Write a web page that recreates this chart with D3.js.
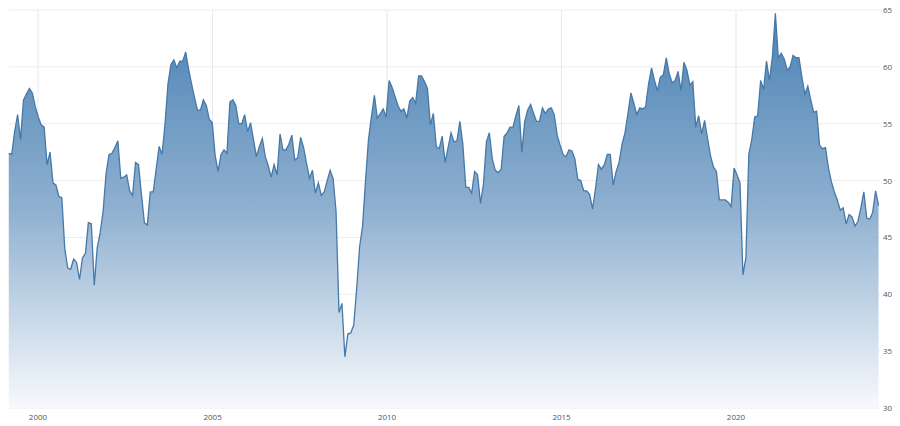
<!DOCTYPE html>
<html><head><meta charset="utf-8">
<script src="https://cdn.jsdelivr.net/npm/d3@7"></script>
<style>body{margin:0;background:#fff}svg{display:block}</style>
</head><body>
<svg id="c" width="900" height="426"></svg>
<script>
const startMonth = "1999-03";
const values = [52.4,52.3,54.3,55.8,53.6,57.1,57.6,58.1,57.7,56.5,55.6,54.9,54.7,51.4,52.5,49.8,49.6,48.6,48.5,44.0,42.3,42.2,43.1,42.8,41.3,43.2,43.6,46.3,46.2,40.8,44.1,45.4,47.3,50.6,52.3,52.4,52.9,53.5,50.2,50.3,50.5,49.1,48.7,51.6,51.4,48.8,46.3,46.1,49.0,49.0,51.0,53.0,52.3,55.0,58.5,60.2,60.6,59.9,60.5,60.5,61.3,59.8,58.5,57.3,56.2,56.2,57.1,56.6,55.4,55.1,52.2,50.8,52.3,52.7,52.4,56.9,57.1,56.6,55.0,55.0,55.8,54.3,55.1,53.6,52.1,53.0,53.7,52.1,51.3,50.3,51.4,50.5,54.1,52.7,52.7,53.2,54.0,51.8,52.0,53.8,52.9,51.5,50.2,50.9,48.9,49.8,48.7,49.0,50.0,50.9,50.2,47.3,38.4,39.2,34.5,36.5,36.6,37.3,40.5,44.2,46.0,50.0,53.6,55.6,57.5,55.5,55.9,56.3,55.6,58.8,58.2,57.4,56.6,56.1,56.3,55.5,57.0,57.3,56.8,59.2,59.2,58.7,58.1,54.9,55.9,53.0,52.8,53.9,51.6,
52.9,54.2,53.4,53.5,55.2,53.2,49.4,49.4,48.9,50.8,50.5,48.0,49.7,53.4,54.2,51.9,50.9,50.7,51.0,53.9,54.2,54.7,54.7,55.7,56.6,52.5,55.2,56.2,56.7,55.9,55.2,55.2,56.4,55.9,56.3,56.4,55.8,54.0,53.1,52.3,52.1,52.7,52.6,51.9,50.1,50.0,49.1,49.1,48.8,47.5,49.3,51.4,51.0,51.4,52.3,52.3,49.6,50.8,51.6,53.2,54.2,55.9,57.7,56.8,55.8,56.4,56.3,56.5,58.5,59.9,58.8,57.9,59.1,59.3,60.8,59.4,58.6,58.8,59.6,57.9,60.4,59.7,58.4,58.7,54.7,55.7,54.1,55.3,53.7,52.2,51.2,50.8,48.3,48.3,48.3,48.1,47.7,51.1,50.5,49.8,41.7,43.2,52.3,53.6,55.6,55.7,58.8,58.0,60.5,58.8,60.9,64.7,60.8,61.2,60.7,59.7,60.0,61.0,60.8,60.8,59.1,57.6,58.3,57.1,56.0,56.1,53.1,52.8,52.9,51.1,49.9,49.0,48.3,47.4,47.6,46.2,47.0,46.8,46.0,46.4,47.6,49.0,46.7,46.6,47.2,49.1,47.8];
const xTickYears = [2000,2005,2010,2015,2020];
const yTicks = [30,35,40,45,50,55,60,65];

const svg = d3.select("#c");
const start = d3.timeParse("%Y-%m")(startMonth);
const endDate = d3.timeParse("%Y-%m")("2024-02");
const data = values.map((v,i)=>({d:new Date(start.getTime()+(endDate-start)*i/(values.length-1)), v}));
const x = d3.scaleTime().domain([new Date(2000,0,1), new Date(2020,0,1)]).range([38,736]);
const y = d3.scaleLinear().domain([30,65]).range([408,10]);
const L = 9, R = 880;

const defs = svg.append("defs");
const g = defs.append("linearGradient").attr("id","gr").attr("x1",0).attr("y1",0).attr("x2",0).attr("y2",1)
  .attr("gradientUnits","userSpaceOnUse").attr("y1",y(65)).attr("y2",y(30)).attr("x1",0).attr("x2",0);
g.append("stop").attr("offset","0%").attr("stop-color","#4a82b4");
g.append("stop").attr("offset","50%").attr("stop-color","#8fb0d0");
g.append("stop").attr("offset","100%").attr("stop-color","#f7f9fc");

svg.append("g").selectAll("line").data(yTicks).join("line")
  .attr("x1",L).attr("x2",R).attr("y1",d=>y(d)).attr("y2",d=>y(d))
  .attr("stroke","#ececec").attr("stroke-width",1);
svg.append("g").selectAll("line").data(xTickYears).join("line")
  .attr("x1",d=>x(new Date(d,0,1))).attr("x2",d=>x(new Date(d,0,1))).attr("y1",10).attr("y2",408)
  .attr("stroke","#e8e8ee").attr("stroke-width",1);

svg.append("path").datum(data)
  .attr("d",d3.area().x(d=>x(d.d)).y0(y(30)).y1(d=>y(d.v)))
  .attr("fill","url(#gr)");
svg.append("path").datum(data)
  .attr("d",d3.line().x(d=>x(d.d)).y(d=>y(d.v)))
  .attr("fill","none").attr("stroke","#4678a8").attr("stroke-width",1.3);

svg.append("g").selectAll("text").data(yTicks).join("text")
  .attr("x",883).attr("y",d=>y(d)+3).text(d=>d)
  .attr("font-family","Open Sans, sans-serif").attr("font-size",8).attr("fill","#555");
svg.append("g").selectAll("text").data(xTickYears).join("text")
  .attr("x",d=>x(new Date(d,0,1))).attr("y",420).attr("text-anchor","middle").text(d=>d)
  .attr("font-family","Open Sans, sans-serif").attr("font-size",8).attr("fill","#555");
</script>
</body></html>
